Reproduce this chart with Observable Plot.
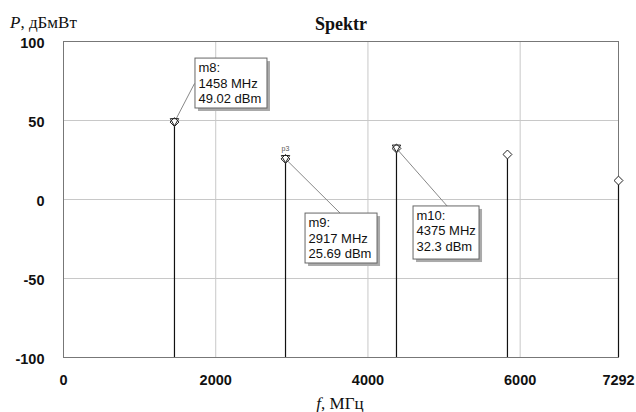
<!DOCTYPE html>
<html><head><meta charset="utf-8">
<script src="https://cdn.jsdelivr.net/npm/d3@7"></script>
<script src="https://cdn.jsdelivr.net/npm/@observablehq/plot@0.6"></script>
<style>body{margin:0;background:#fff}</style>
</head><body><div id="chart"></div>
<script>
// spectrum peaks
const freqs = [1458, 2917, 4375, 5833, 7292];
const powers = [49.02, 25.69, 32.3, 28.5, 12];
// markers
const markerNames = ["m8", "m9", "m10"];
const markerFreqs = [1458, 2917, 4375];
const markerPowers = [49.02, 25.69, 32.3];
// marker annotation box placement (data units)
const boxLeft = [1734, 3180, 4599];
const boxRight = [2680, 4126, 5466];
const boxTop = [89.2, -8.9, -4.4];
const boxBottom = [57.6, -40.5, -38];
const leaderF = [1721, 3640, 5045];
const leaderP = [73.4, -8.9, -4.4];
// ticks
const xTicks = [0, 2000, 4000, 6000, 7292];
const yTicks = [-100, -50, 0, 50, 100];
const gridXTicks = [2000, 4000, 6000];
const gridYTicks = [-50, 0, 50];

const peaks = freqs.map((f, i) => ({f, p: powers[i]}));
const markers = markerNames.map((n, i) => ({
  name: n, f: markerFreqs[i], p: markerPowers[i],
  x1: boxLeft[i], x2: boxRight[i], y1: boxTop[i], y2: boxBottom[i],
  lf: leaderF[i], lp: leaderP[i],
  label: `${n}:\n${markerFreqs[i]} MHz\n${markerPowers[i]} dBm`
}));

const sans = "'Liberation Sans', Arial, sans-serif";
const serif = "'Liberation Serif', 'Times New Roman', serif";

const plot = Plot.plot({
  width: 636, height: 412,
  marginLeft: 63, marginRight: 18, marginTop: 41, marginBottom: 55,
  style: {fontFamily: sans, background: "#fff"},
  x: {domain: [0, 7292]},
  y: {domain: [-100, 100]},
  marks: [
    Plot.gridX(gridXTicks, {stroke: "#c8c8c8", strokeOpacity: 1}),
    Plot.gridY(gridYTicks, {stroke: "#c8c8c8", strokeOpacity: 1}),
    Plot.frame({stroke: "#777"}),
    Plot.axisX(xTicks, {tickSize: 0, tickPadding: 17, fontSize: 14.5, fontWeight: "bold", fill: "#111", label: null, tickFormat: d => String(d)}),
    Plot.axisY(yTicks, {tickSize: 0, tickPadding: 19, fontSize: 14.5, fontWeight: "bold", fill: "#111", dy: 2, label: null, tickFormat: d => String(d)}),
    Plot.ruleX(peaks, {x: "f", y1: -100, y2: "p", stroke: "#111", strokeWidth: 1.2}),
    Plot.link(markers, {x1: "f", y1: "p", x2: "lf", y2: "lp", stroke: "#888", strokeWidth: 1}),
    Plot.dot(peaks, {x: "f", y: "p", symbol: "diamond2", r: 4, stroke: "#222", fill: "#fff", strokeWidth: 1}),
    Plot.dot(markers, {x: "f", y: "p", symbol: "triangle2", rotate: 180, r: 4, stroke: "#222", fill: "none", strokeWidth: 1, dy: -1}),
    Plot.text(markers.filter(d => d.name === "m9"), {x: "f", y: "p", text: () => "p3", fontSize: 7, fill: "#555", dy: -10}),
    Plot.rect(markers, {x1: "x1", x2: "x2", y1: "y1", y2: "y2", fill: "#aaa", dx: 3, dy: 3}),
    Plot.rect(markers, {x1: "x1", x2: "x2", y1: "y1", y2: "y2", fill: "#fff", stroke: "#666", strokeWidth: 1}),
    Plot.text(markers, {x: "x1", y: "y1", text: "label", textAnchor: "start", lineAnchor: "top", dx: 3, dy: 3, fontSize: 13, lineHeight: 1.17, fill: "#111", letterSpacing: "-0.4px"}),
    Plot.text(["Spektr"], {frameAnchor: "top", text: d => d, dy: -24, fontSize: 18, fontWeight: "bold", fontFamily: serif, fill: "#111"})
  ]
});

const svg = d3.select(plot);
const yl = svg.append("text").attr("x", 10).attr("y", 28).attr("text-anchor", "start")
  .attr("font-family", serif).attr("font-size", 17).attr("fill", "#111");
yl.append("tspan").attr("font-style", "italic").text("P");
yl.append("tspan").text(", дБмВт");
const xl = svg.append("text").attr("x", 340).attr("y", 409).attr("text-anchor", "middle")
  .attr("font-family", serif).attr("font-size", 17).attr("fill", "#111");
xl.append("tspan").attr("font-style", "italic").text("f");
xl.append("tspan").text(", МГц");

document.getElementById("chart").append(plot);
</script>
</body></html>
